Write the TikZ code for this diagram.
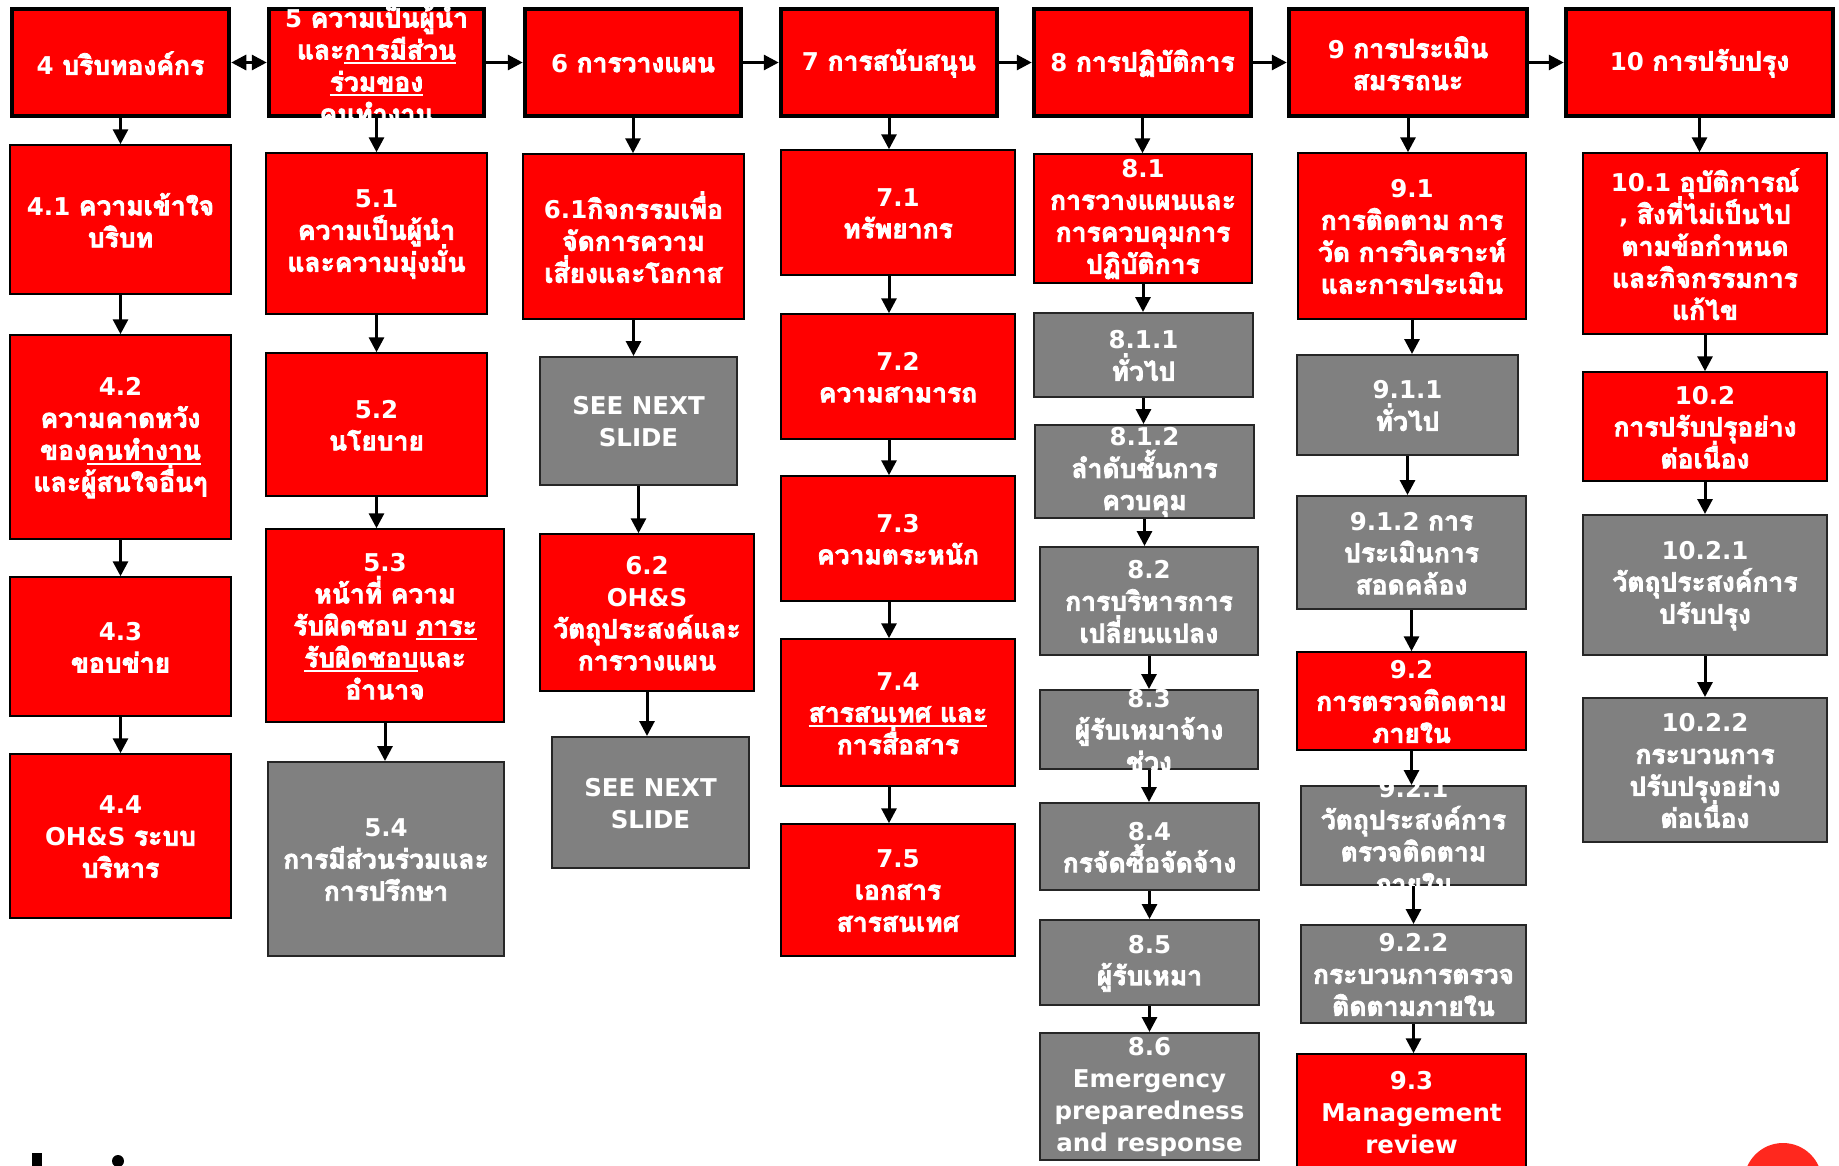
\documentclass[tikz,border=0pt]{standalone}
\usepackage{fontspec}
\setmainfont{DejaVu Sans}
\newfontfamily\thaifont[Script=Thai, Scale=1.08, UprightFeatures={FakeBold=3}, BoldFeatures={FakeBold=3}]{Loma}
\newfontfamily\latfont{DejaVu Sans}
\usetikzlibrary{arrows.meta,positioning}

% Thai letters in Loma, the rest in DejaVu Sans
\XeTeXinterchartokenstate=1
\newXeTeXintercharclass\thaiclass
\count255="0E00
\loop
  \XeTeXcharclass\count255=\thaiclass
  \ifnum\count255<"0E7F \advance\count255 by 1 \repeat
\XeTeXinterchartoks 0 \thaiclass = {\thaifont}
\XeTeXinterchartoks 4095 \thaiclass = {\thaifont}
\XeTeXinterchartoks \thaiclass 0 = {\latfont}
\XeTeXinterchartoks \thaiclass 4095 = {\latfont}

\definecolor{boxred}{RGB}{255,0,0}
\definecolor{boxgray}{RGB}{128,128,128}
\definecolor{dotred}{RGB}{255,40,30}

% text of a box, centred and not counted in the box size
\newcommand{\boxtxt}[1]{\makebox[0pt]{\smash{\raisebox{-7pt}{\parbox{330pt}{\centering\lineskiplimit=-\maxdimen #1}}}}}
% underline with a thicker rule
\newcommand{\uln}[1]{\leavevmode\begingroup\setbox0\hbox{#1}\rlap{\rule[-5pt]{\wd0}{2pt}}\box0\endgroup}

\begin{document}
\begin{tikzpicture}[x=1pt, y=-1pt,
    head/.style={rectangle, draw=black, line width=4.5pt, fill=boxred, text=white, inner sep=0pt, font=\bfseries\fontsize{24.5}{32}\selectfont},
    redbox/.style={rectangle, draw=black, line width=1.5pt, fill=boxred, text=white, inner sep=0pt, font=\bfseries\fontsize{24.5}{32}\selectfont},
    graybox/.style={rectangle, draw=black!85, line width=2pt, fill=boxgray, text=white, inner sep=0pt, font=\bfseries\fontsize{24.5}{32}\selectfont},
    wh/.style 2 args={minimum width=#1pt, minimum height=#2pt},
    ar/.style={line width=3pt, -{Triangle[length=15pt, width=15pt]}},
    dar/.style={line width=3pt, {Triangle[length=15pt, width=15pt]}-{Triangle[length=15pt, width=15pt]}}]
    \useasboundingbox (0,0) rectangle (1839,1165);

    % column 4
    \node [head, wh={217}{107}] (b4) at (120.5,62.5) {\boxtxt{4 บริบทองค์กร}};
    \node [redbox, wh={221}{149}] (b41) at (120.5,219.5) {\boxtxt{4.1 ความเข้าใจ\\บริบท}};
    \node [redbox, wh={221}{204}] (b42) at (120.5,437) {\boxtxt{4.2\\ความคาดหวัง\\ของ\uln{คนทำงาน}\\และผู้สนใจอื่นๆ}};
    \node [redbox, wh={221}{139}] (b43) at (120.5,646.5) {\boxtxt{4.3\\ขอบข่าย}};
    \node [redbox, wh={221}{164}] (b44) at (120.5,836) {\boxtxt{4.4\\OH\&S ระบบ\\บริหาร}};

    % column 5
    \node [head, wh={215}{107}] (b5) at (376.5,62.5) {\boxtxt{5 ความเป็นผู้นำ\\และ\uln{การมีส่วน}\\\uln{ร่วมของ}\\คนทำงาน}};
    \node [redbox, wh={221}{161}] (b51) at (376.5,233.5) {\boxtxt{5.1\\ความเป็นผู้นำ\\และความมุ่งมั่น}};
    \node [redbox, wh={221}{143}] (b52) at (376.5,424.5) {\boxtxt{5.2\\นโยบาย}};
    \node [redbox, wh={238}{193}] (b53) at (385,625.5) {\boxtxt{5.3\\หน้าที่ ความ\\รับผิดชอบ \uln{ภาระ}\\\uln{รับผิดชอบ}และ\\อำนาจ}};
    \node [graybox, wh={236}{194}] (b54) at (386,859) {\boxtxt{5.4\\การมีส่วนร่วมและ\\การปรึกษา}};

    % column 6
    \node [head, wh={216}{107}] (b6) at (633,62.5) {\boxtxt{6 การวางแผน}};
    \node [redbox, wh={221}{165}] (b61) at (633.5,236.5) {\boxtxt{6.1กิจกรรมเพื่อ\\จัดการความ\\เสี่ยงและโอกาส}};
    \node [graybox, wh={197}{128}] (s1) at (638.5,421) {\boxtxt{SEE NEXT\\SLIDE}};
    \node [redbox, wh={214}{157}] (b62) at (647,612.5) {\boxtxt{6.2\\OH\&S\\วัตถุประสงค์และ\\การวางแผน}};
    \node [graybox, wh={197}{131}] (s2) at (650.5,802.5) {\boxtxt{SEE NEXT\\SLIDE}};

    % column 7
    \node [head, wh={216}{107}] (b7) at (889,62.5) {\boxtxt{7 การสนับสนุน}};
    \node [redbox, wh={234}{125}] (b71) at (898,212.5) {\boxtxt{7.1\\ทรัพยากร}};
    \node [redbox, wh={234}{125}] (b72) at (898,376.5) {\boxtxt{7.2\\ความสามารถ}};
    \node [redbox, wh={234}{125}] (b73) at (898,538.5) {\boxtxt{7.3\\ความตระหนัก}};
    \node [redbox, wh={234}{147}] (b74) at (898,712.5) {\boxtxt{7.4\\\uln{สารสนเทศ และ}\\การสื่อสาร}};
    \node [redbox, wh={234}{132}] (b75) at (898,890) {\boxtxt{7.5\\เอกสาร\\สารสนเทศ}};

    % column 8
    \node [head, wh={217}{107}] (b8) at (1142.5,62.5) {\boxtxt{8 การปฏิบัติการ}};
    \node [redbox, wh={218}{129}] (b81) at (1143,218.5) {\boxtxt{8.1\\การวางแผนและ\\การควบคุมการ\\ปฏิบัติการ}};
    \node [graybox, wh={219}{84}] (b811) at (1143.5,355) {\boxtxt{8.1.1\\ทั่วไป}};
    \node [graybox, wh={219}{93}] (b812) at (1144.5,471.5) {\boxtxt{8.1.2\\ลำดับชั้นการ\\ควบคุม}};
    \node [graybox, wh={218}{108}] (b82) at (1149,601) {\boxtxt{8.2\\การบริหารการ\\เปลี่ยนแปลง}};
    \node [graybox, wh={218}{79}] (b83) at (1149,729.5) {\boxtxt{8.3\\ผู้รับเหมาจ้าง\\ช่วง}};
    \node [graybox, wh={219}{87}] (b84) at (1149.5,846.5) {\boxtxt{8.4\\กรจัดซื้อจัดจ้าง}};
    \node [graybox, wh={219}{85}] (b85) at (1149.5,962.5) {\boxtxt{8.5\\ผู้รับเหมา}};
    \node [graybox, wh={219}{127}] (b86) at (1149.5,1096.5) {\boxtxt{8.6\\Emergency\\preparedness\\and response}};

    % column 9
    \node [head, wh={238}{107}] (b9) at (1408,62.5) {\boxtxt{9 การประเมิน\\สมรรถนะ}};
    \node [redbox, wh={228}{166}] (b91) at (1412,236) {\boxtxt{9.1\\การติดตาม การ\\วัด การวิเคราะห์\\และการประเมิน}};
    \node [graybox, wh={221}{100}] (b911) at (1407.5,405) {\boxtxt{9.1.1\\ทั่วไป}};
    \node [graybox, wh={229}{113}] (b912) at (1411.5,552.5) {\boxtxt{9.1.2 การ\\ประเมินการ\\สอดคล้อง}};
    \node [redbox, wh={229}{98}] (b92) at (1411.5,701) {\boxtxt{9.2\\การตรวจติดตาม\\ภายใน}};
    \node [graybox, wh={225}{99}] (b921) at (1413.5,835.5) {\boxtxt{9.2.1\\วัตถุประสงค์การ\\ตรวจติดตาม\\ภายใน}};
    \node [graybox, wh={225}{98}] (b922) at (1413.5,974) {\boxtxt{9.2.2\\กระบวนการตรวจ\\ติดตามภายใน}};
    \node [redbox, wh={229}{116}] (b93) at (1411.5,1112) {\boxtxt{9.3\\Management\\review}};

    % column 10
    \node [head, wh={267}{107}] (b10) at (1699.5,62.5) {\boxtxt{10 การปรับปรุง}};
    \node [redbox, wh={244}{181}] (b101) at (1705,243.5) {\boxtxt{10.1 อุบัติการณ์\\, สิงที่ไม่เป็นไป\\ตามข้อกำหนด\\และกิจกรรมการ\\แก้ไข}};
    \node [redbox, wh={244}{109}] (b102) at (1705,426.5) {\boxtxt{10.2\\การปรับปรุอย่าง\\ต่อเนื่อง}};
    \node [graybox, wh={244}{140}] (b1021) at (1705,585) {\boxtxt{10.2.1\\วัตถุประสงค์การ\\ปรับปรุง}};
    \node [graybox, wh={244}{144}] (b1022) at (1705,770) {\boxtxt{10.2.2\\กระบวนการ\\ปรับปรุงอย่าง\\ต่อเนื่อง}};

    % arrows
    \draw [dar] (b4) -- (b5);
    \foreach \a/\b in {b5/b6, b6/b7, b7/b8, b8/b9, b9/b10}
        \draw [ar] (\a) -- (\b);
    \foreach \a/\b in {b4/b41, b41/b42, b42/b43, b43/b44,
                       b5/b51, b51/b52, b52/b53, b53/b54,
                       b6/b61, b61/s1, s1/b62, b62/s2,
                       b8/b81, b81/b811, b811/b812, b812/b82, b82/b83, b83/b84, b84/b85, b85/b86,
                       b9/b91, b91/b911, b911/b912, b912/b92, b92/b921, b921/b922, b922/b93,
                       b10/b101, b101/b102, b102/b1021, b1021/b1022}
        \draw [ar] (\a.south) -- (\a.south |- \b.north);
    \foreach \a/\b in {b7/b71, b71/b72, b72/b73, b73/b74, b74/b75}
        \draw [ar] (\a.south -| b7) -- (\b.north -| b7);

    % cut-off bits at the page edge
    \fill (32,1153) rectangle (42,1166);
    \fill (118,1161) circle (6);
    \fill [dotred] (1783,1182) circle (39);
\end{tikzpicture}
\end{document}
